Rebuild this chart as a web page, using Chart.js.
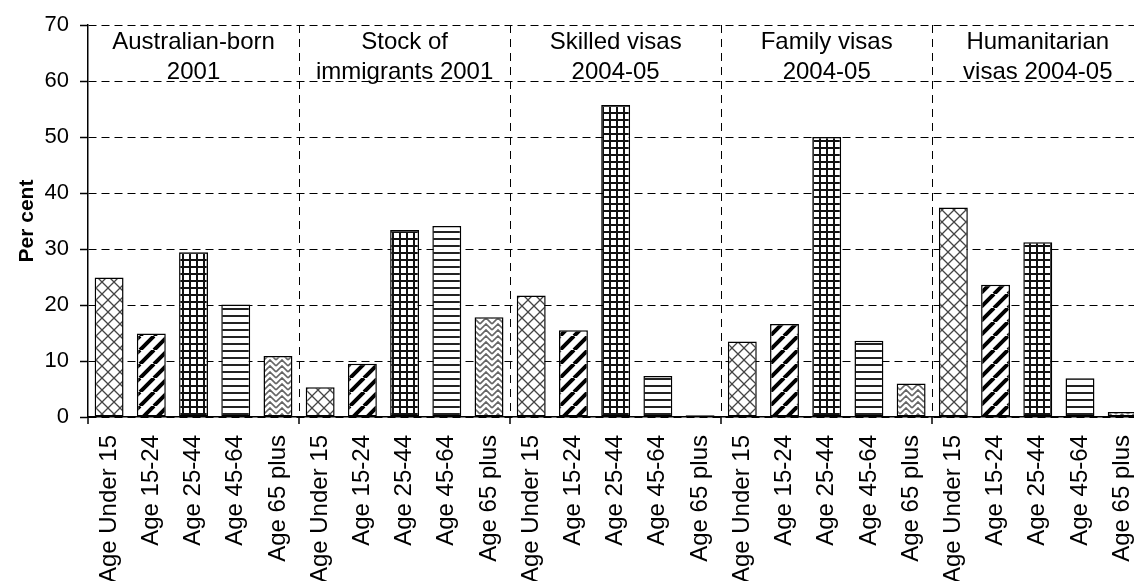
<!DOCTYPE html>
<html>
<head>
<meta charset="utf-8">
<title>Age profile of migrants</title>
<script src="https://cdn.jsdelivr.net/npm/chart.js@4/dist/chart.umd.min.js"></script>
<style>
  html, body { margin: 0; padding: 0; background: #fff; overflow: hidden; }
  canvas { display: block; }
</style>
</head>
<body>
<canvas id="ageChart" width="1169" height="581"></canvas>
<script>
const ageGroups = ["Age Under 15", "Age 15-24", "Age 25-44", "Age 45-64", "Age 65 plus"];
const cohortTitles = [
  ["Australian-born", "2001"],
  ["Stock of", "immigrants 2001"],
  ["Skilled visas", "2004-05"],
  ["Family visas", "2004-05"],
  ["Humanitarian", "visas 2004-05"],
];
const australianBorn = [24.9, 14.9, 29.4, 20.1, 10.9];
const stockOfImmigrants = [5.3, 9.5, 33.4, 34.1, 17.8];
const skilledVisas = [21.7, 15.5, 55.7, 7.3, 0.3];
const familyVisas = [13.5, 16.6, 50.0, 13.6, 6.0];
const humanitarianVisas = [37.4, 23.6, 31.2, 6.9, 0.9];
const yMin = 0;
const yMax = 70;
const yStep = 10;

const FONT = "'Liberation Sans', Arial, sans-serif";

const labels = [];
cohortTitles.forEach(() => ageGroups.forEach((a) => labels.push(a)));
const values = [].concat(australianBorn, stockOfImmigrants, skilledVisas, familyVisas, humanitarianVisas);

// hatch fills, one per age group
function makePattern(kind) {
  const c = document.createElement("canvas");
  const g = c.getContext("2d");
  let s = 12;
  if (kind === "diag") s = 14;
  if (kind === "grid" || kind === "hlines") s = 7;
  c.width = s;
  c.height = s;
  g.fillStyle = "#fff";
  g.fillRect(0, 0, s, s);
  if (kind === "cross") {
    g.strokeStyle = "#444";
    g.lineWidth = 1.3;
    g.beginPath();
    g.moveTo(0, 0); g.lineTo(s, s);
    g.moveTo(s, 0); g.lineTo(0, s);
    g.stroke();
  } else if (kind === "diag") {
    g.strokeStyle = "#000";
    g.lineWidth = 4;
    g.beginPath();
    for (let k = -1; k <= 1; k++) {
      g.moveTo(k * s, s);
      g.lineTo(k * s + s, 0);
    }
    g.stroke();
  } else if (kind === "grid") {
    g.fillStyle = "#111";
    g.fillRect(0, 0, s, 2);
    g.fillRect(0, 0, 2, s);
  } else if (kind === "hlines") {
    g.fillStyle = "#222";
    g.fillRect(0, 0, s, 2);
  } else if (kind === "weave") {
    g.strokeStyle = "#666";
    g.lineWidth = 1.6;
    g.beginPath();
    for (let y = -6; y <= s; y += 6) {
      g.moveTo(0, y + 6);
      g.lineTo(6, y);
      g.lineTo(12, y + 6);
    }
    g.stroke();
  }
  return g.createPattern(c, "repeat");
}

const agePatterns = ["cross", "diag", "grid", "hlines", "weave"].map(makePattern);
const barFills = labels.map((_, i) => agePatterns[i % ageGroups.length]);

// dashed separators between cohorts, tick marks under the axis, cohort titles
const cohortPlugin = {
  id: "cohorts",
  beforeDatasetsDraw(chart) {
    const { ctx, chartArea, scales } = chart;
    const x = scales.x;
    const n = ageGroups.length;
    const edge = (i) => {
      if (i === 0) return chartArea.left;
      if (i === labels.length) return chartArea.right;
      return (x.getPixelForValue(i - 1) + x.getPixelForValue(i)) / 2;
    };
    ctx.save();
    ctx.strokeStyle = "#000";
    ctx.lineWidth = 1;
    ctx.setLineDash([8, 6]);
    for (let g = 1; g < cohortTitles.length; g++) {
      const px = Math.round(edge(g * n)) + 0.5;
      ctx.beginPath();
      ctx.moveTo(px, chartArea.top);
      ctx.lineTo(px, chartArea.bottom);
      ctx.stroke();
    }
    ctx.setLineDash([]);
    ctx.lineWidth = 1.5;
    for (let g = 0; g <= cohortTitles.length; g++) {
      const px = Math.round(edge(g * n));
      ctx.beginPath();
      ctx.moveTo(px, chartArea.bottom);
      ctx.lineTo(px, chartArea.bottom + 7);
      ctx.stroke();
    }
    ctx.restore();
  },
  afterDraw(chart) {
    const { ctx, scales } = chart;
    const x = scales.x;
    const n = ageGroups.length;
    ctx.save();
    ctx.fillStyle = "#000";
    ctx.font = "24px " + FONT;
    ctx.textAlign = "center";
    ctx.textBaseline = "middle";
    cohortTitles.forEach((lines, g) => {
      const cx = (x.getPixelForValue(g * n) + x.getPixelForValue(g * n + n - 1)) / 2;
      lines.forEach((t, j) => ctx.fillText(t, cx, 42 + j * 30));
    });
    ctx.restore();
  },
};

new Chart(document.getElementById("ageChart"), {
  type: "bar",
  data: {
    labels: labels,
    datasets: [
      {
        data: values,
        backgroundColor: barFills,
        borderColor: "#000",
        borderWidth: 1.5,
        borderSkipped: false,
        barPercentage: 0.685,
        categoryPercentage: 1,
      },
    ],
  },
  options: {
    responsive: false,
    animation: false,
    layout: { padding: { top: 25, right: 0, left: 0, bottom: 0 } },
    plugins: { legend: { display: false }, tooltip: { enabled: false } },
    scales: {
      x: {
        grid: { display: false, drawTicks: false },
        border: { display: true, color: "#000", width: 1.5 },
        ticks: {
          color: "#000",
          font: { family: FONT, size: 24 },
          minRotation: 90,
          maxRotation: 90,
          autoSkip: false,
          padding: 18,
        },
        afterFit(scale) { scale.height = 164; },
      },
      y: {
        min: yMin,
        max: yMax,
        ticks: {
          stepSize: yStep,
          color: "#000",
          font: { family: FONT, size: 22 },
          padding: 11,
        },
        grid: {
          color: "#000",
          lineWidth: 1,
          tickLength: 8,
          tickColor: "#000",
          tickWidth: 1.5,
          tickBorderDash: [],
        },
        border: { display: true, color: "#000", width: 1.5, dash: [8, 5] },
        title: {
          display: true,
          text: "Per cent",
          color: "#000",
          font: { family: FONT, size: 21, weight: "bold" },
          padding: { top: 15, bottom: 0 },
        },
        afterFit(scale) { scale.width = 88; },
      },
    },
  },
  plugins: [cohortPlugin],
});
</script>
</body>
</html>
